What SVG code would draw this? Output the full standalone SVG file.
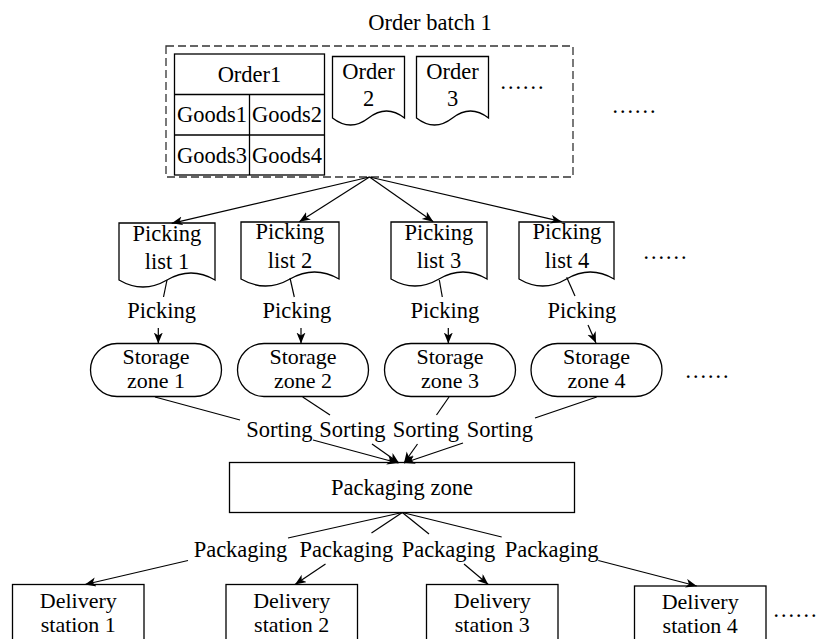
<svg xmlns="http://www.w3.org/2000/svg" width="817" height="639" viewBox="0 0 817 639" font-family="'Liberation Serif', 'Times New Roman', 'DejaVu Serif', serif">
<style>
text{font-family:'Liberation Serif','Times New Roman','DejaVu Serif',serif;font-size:22.5px;fill:#000;text-anchor:middle}
.z{font-size:22px}
.s{fill:#fff;stroke:#000;stroke-width:1.3}
.c line{stroke:#000;stroke-width:1.2}
</style>
<defs>
<marker id="ah" markerUnits="userSpaceOnUse" markerWidth="12" markerHeight="10" refX="11" refY="4.5" orient="auto">
<path d="M0,0 L11,4.5 L0,9 L3,4.5 Z" fill="#000"/>
</marker>
</defs>
<rect width="817" height="639" fill="#fff"/>

<g id="batch">
<rect x="166" y="46" width="407" height="131" fill="none" stroke="#333" stroke-width="1.3" stroke-dasharray="8 4"/>
<text x="430" y="30">Order batch 1</text>
<text x="522" y="89">……</text>
<text x="634" y="113">……</text>
</g>

<g id="order1">
<rect class="s" x="174.5" y="54" width="150" height="121"/>
<line x1="174.5" y1="94.5" x2="324.5" y2="94.5" stroke="#000" stroke-width="1.3"/>
<line x1="174.5" y1="135" x2="324.5" y2="135" stroke="#000" stroke-width="1.3"/>
<line x1="249.5" y1="94.5" x2="249.5" y2="175" stroke="#000" stroke-width="1.3"/>
<text x="249.5" y="82">Order1</text>
<text x="212" y="122">Goods1</text>
<text x="287" y="122">Goods2</text>
<text x="212" y="162.5">Goods3</text>
<text x="287" y="162.5">Goods4</text>
</g>

<g id="order2">
<path class="s" d="M332.5,56.5 H404.5 V118 Q386.5,104 368.5,118 T332.5,118 Z"/>
<text x="368.5" y="78.5">Order</text>
<text x="368.5" y="106">2</text>
</g>
<g id="order3">
<path class="s" d="M416.5,56.5 H488.5 V118 Q470.5,104 452.5,118 T416.5,118 Z"/>
<text x="452.5" y="78.5">Order</text>
<text x="452.5" y="106">3</text>
</g>

<g id="list1">
<path class="s" d="M119,223 H215 V280 Q191,266 167,280 T119,280 Z"/>
<text x="167" y="240.5">Picking</text>
<text x="167" y="268.5">list 1</text>
</g>
<g id="list2">
<path class="s" d="M241,222 H339 V279 Q314.5,265 290,279 T241,279 Z"/>
<text x="290" y="239">Picking</text>
<text x="290" y="267.5">list 2</text>
</g>
<g id="list3">
<path class="s" d="M391,222 H487 V279 Q463,265 439,279 T391,279 Z"/>
<text x="439" y="239.5">Picking</text>
<text x="439" y="267.5">list 3</text>
</g>
<g id="list4">
<path class="s" d="M519,222 H614 V279 Q590.25,265 566.5,279 T519,279 Z"/>
<text x="567" y="239">Picking</text>
<text x="567" y="267.5">list 4</text>
</g>
<text x="665" y="259">……</text>

<g id="zone1">
<rect class="s" x="90.5" y="343.5" width="131" height="53" rx="26.5"/>
<text class="z" x="156" y="364">Storage</text>
<text class="z" x="156" y="388">zone 1</text>
</g>
<g id="zone2">
<rect class="s" x="237.5" y="343.5" width="131" height="53" rx="26.5"/>
<text class="z" x="303" y="364">Storage</text>
<text class="z" x="303" y="388">zone 2</text>
</g>
<g id="zone3">
<rect class="s" x="384.5" y="343.5" width="131" height="53" rx="26.5"/>
<text class="z" x="450" y="364">Storage</text>
<text class="z" x="450" y="388">zone 3</text>
</g>
<g id="zone4">
<rect class="s" x="531" y="343.5" width="131" height="53" rx="26.5"/>
<text class="z" x="596.5" y="364">Storage</text>
<text class="z" x="596.5" y="388">zone 4</text>
</g>
<text x="707" y="378">……</text>

<g id="packaging">
<rect class="s" x="229.5" y="462.5" width="345" height="50"/>
<text x="402" y="495">Packaging zone</text>
</g>

<g id="station1">
<rect class="s" x="12.5" y="584.5" width="131.5" height="62"/>
<text class="z" x="78.3" y="608">Delivery</text>
<text class="z" x="78.3" y="632">station 1</text>
</g>
<g id="station2">
<rect class="s" x="226" y="584.5" width="131.5" height="62"/>
<text class="z" x="291.7" y="608">Delivery</text>
<text class="z" x="291.7" y="632">station 2</text>
</g>
<g id="station3">
<rect class="s" x="426.5" y="584.5" width="131.5" height="62"/>
<text class="z" x="492.3" y="608">Delivery</text>
<text class="z" x="492.3" y="632">station 3</text>
</g>
<g id="station4">
<rect class="s" x="634.5" y="586" width="131.5" height="62"/>
<text class="z" x="700.2" y="609">Delivery</text>
<text class="z" x="700.2" y="633">station 4</text>
</g>
<text x="795" y="617">……</text>

<g id="connectors" class="c">
<line x1="369.5" y1="177" x2="171.7" y2="223.3" marker-end="url(#ah)"/>
<line x1="369.5" y1="177" x2="299.3" y2="221.7" marker-end="url(#ah)"/>
<line x1="369.5" y1="177" x2="433.3" y2="221.7" marker-end="url(#ah)"/>
<line x1="369.5" y1="177" x2="561.7" y2="221.7" marker-end="url(#ah)"/>

<line x1="167" y1="280" x2="163.5" y2="297"/>
<line x1="158.3" y1="328" x2="158.3" y2="343.5" marker-end="url(#ah)"/>
<line x1="290" y1="278" x2="294.3" y2="297"/>
<line x1="301" y1="328" x2="301" y2="343.5" marker-end="url(#ah)"/>
<line x1="439.3" y1="280" x2="442.3" y2="297"/>
<line x1="448.3" y1="328" x2="448.3" y2="343.5" marker-end="url(#ah)"/>
<line x1="566.7" y1="277.3" x2="575" y2="296"/>
<line x1="588" y1="325" x2="596" y2="343" marker-end="url(#ah)"/>

<line x1="155" y1="397" x2="240" y2="420"/>
<line x1="313" y1="440" x2="398" y2="463" marker-end="url(#ah)"/>
<line x1="302.7" y1="397" x2="330" y2="415"/>
<line x1="372" y1="444" x2="399" y2="463" marker-end="url(#ah)"/>
<line x1="449" y1="397" x2="436.5" y2="415"/>
<line x1="417.5" y1="444" x2="404" y2="463" marker-end="url(#ah)"/>
<line x1="596.7" y1="397" x2="535" y2="418"/>
<line x1="463" y1="443" x2="404" y2="463" marker-end="url(#ah)"/>

<line x1="402.3" y1="512.5" x2="288" y2="538"/>
<line x1="188" y1="560.5" x2="85" y2="584.5" marker-end="url(#ah)"/>
<line x1="402.3" y1="512.5" x2="371.5" y2="533"/>
<line x1="325.5" y1="564" x2="295" y2="584.5" marker-end="url(#ah)"/>
<line x1="402.3" y1="512.5" x2="429" y2="534"/>
<line x1="464" y1="564" x2="488.3" y2="584.5" marker-end="url(#ah)"/>
<line x1="402.3" y1="512.5" x2="501.7" y2="537"/>
<line x1="598.3" y1="560.5" x2="696.7" y2="586" marker-end="url(#ah)"/>
</g>

<g id="labels">
<text x="161.7" y="318.3">Picking</text>
<text x="297" y="318.3">Picking</text>
<text x="445" y="318.3">Picking</text>
<text x="582" y="318.3">Picking</text>
<text x="279.5" y="437">Sorting</text>
<text x="352.5" y="437">Sorting</text>
<text x="426" y="437">Sorting</text>
<text x="500" y="437">Sorting</text>
<text x="240.5" y="556.7">Packaging</text>
<text x="346.3" y="556.7">Packaging</text>
<text x="448.5" y="556.7">Packaging</text>
<text x="551.7" y="556.7">Packaging</text>
</g>
</svg>
